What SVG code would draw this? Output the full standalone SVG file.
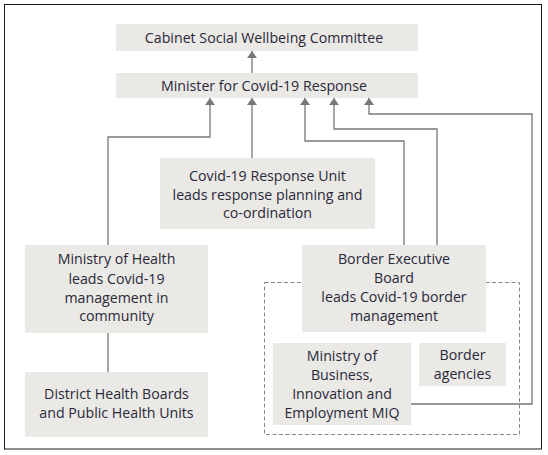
<svg xmlns="http://www.w3.org/2000/svg" width="548" height="455" viewBox="0 0 548 455">
<style>
.box{fill:#ebe9e5;}
.t{font-family:"Open Sans","Noto Sans",sans-serif;font-size:14.2px;fill:#28283a;text-anchor:middle;}
.c{fill:none;stroke:#777;stroke-width:1.3;}
</style>
<defs>
<marker id="ah" viewBox="0 0 7 10" refX="7" refY="5" markerWidth="7" markerHeight="10" markerUnits="userSpaceOnUse" orient="auto">
<path d="M0,0 L7,5 L0,10 z" fill="#777"/>
</marker>
</defs>
<rect x="4.5" y="4.5" width="537" height="444.5" fill="#fff" stroke="#1a1a1a" stroke-width="1"/>
<rect x="264.5" y="282.5" width="255" height="152" fill="none" stroke="#888" stroke-width="1" stroke-dasharray="4,2.5"/>
<g id="connectors">
<path class="c" d="M252,73 V51" marker-end="url(#ah)"/>
<path class="c" d="M108,245 V137 H210 V98" marker-end="url(#ah)"/>
<path class="c" d="M252,158 V98" marker-end="url(#ah)"/>
<path class="c" d="M404,245 V141 H305 V98" marker-end="url(#ah)"/>
<path class="c" d="M437,245 V129 H334 V98" marker-end="url(#ah)"/>
<path class="c" d="M411,404 H532 V114 H369 V98" marker-end="url(#ah)"/>
<path class="c" d="M108,333 V372"/>
</g>
<g id="cabinet">
<rect class="box" x="116" y="24" width="302" height="27"/>
<text class="t" x="264" y="42.5">Cabinet Social Wellbeing Committee</text>
</g>
<g id="minister">
<rect class="box" x="116" y="73" width="302" height="25"/>
<text class="t" x="264" y="90.5">Minister for Covid-19 Response</text>
</g>
<g id="unit">
<rect class="box" x="160" y="158" width="215" height="71"/>
<text class="t" x="267.5" y="181">Covid-19 Response Unit</text>
<text class="t" x="267.5" y="199.5">leads response planning and</text>
<text class="t" x="267.5" y="218">co-ordination</text>
</g>
<g id="moh">
<rect class="box" x="25" y="245" width="183" height="88"/>
<text class="t" x="116.5" y="264">Ministry of Health</text>
<text class="t" x="116.5" y="283.5">leads Covid-19</text>
<text class="t" x="116.5" y="302.5">management in</text>
<text class="t" x="116.5" y="320.5">community</text>
</g>
<g id="dhb">
<rect class="box" x="25" y="372" width="183" height="65"/>
<text class="t" x="116.5" y="399">District Health Boards</text>
<text class="t" x="116.5" y="418">and Public Health Units</text>
</g>
<g id="beb">
<rect class="box" x="302" y="245" width="184" height="87"/>
<text class="t" x="394" y="264">Border Executive</text>
<text class="t" x="394" y="283">Board</text>
<text class="t" x="394" y="302">leads Covid-19 border</text>
<text class="t" x="394" y="320.5">management</text>
</g>
<g id="mbie">
<rect class="box" x="273" y="343" width="138" height="82"/>
<text class="t" x="342" y="361">Ministry of</text>
<text class="t" x="342" y="380">Business,</text>
<text class="t" x="342" y="399">Innovation and</text>
<text class="t" x="342" y="418">Employment MIQ</text>
</g>
<g id="border">
<rect class="box" x="419" y="343" width="87" height="43"/>
<text class="t" x="462.5" y="360">Border</text>
<text class="t" x="462.5" y="379">agencies</text>
</g>
</svg>
